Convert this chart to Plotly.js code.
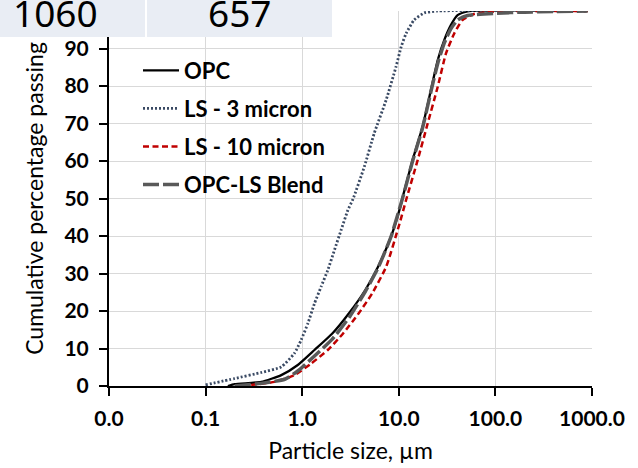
<!DOCTYPE html>
<html>
<head>
<meta charset="utf-8">
<script src="https://cdn.plot.ly/plotly-3.0.1.min.js"></script>
<style>html,body{margin:0;padding:0;background:#fff;}#chart{width:638px;height:468px;}</style>
</head>
<body>
<div id="chart"></div>
<script>
// Series names
var seriesNames = ['OPC', 'LS - 3 micron', 'LS - 10 micron', 'OPC-LS Blend'];

// Particle size (µm) and cumulative percentage passing (%) for each series
var opcSize = [0.17, 0.2, 0.377, 0.607, 0.9, 1.34, 2.05, 3.05, 4.5, 6.1, 8.3, 10.3, 11.0, 13.9, 17.6, 21.5, 25.3, 29.6, 34.7, 40.6, 51.5, 900];
var opcPass = [0, 0.5, 1.1, 2.9, 5.6, 9.6, 14, 19.4, 25.6, 31.8, 39.8, 47.5, 50.5, 60.3, 69.1, 78.9, 86.9, 92.3, 96.3, 98.9, 99.9, 100];

var ls3Size = [0.1, 0.2, 0.377, 0.607, 0.83, 0.976, 1.145, 1.34, 1.57, 1.84, 2.16, 2.53, 2.97, 3.35, 4.4, 5.57, 7.4, 9.35, 10.6, 11.9, 14.4, 18.4, 25, 900];
var ls3Pass = [0.3, 2.0, 3.6, 5.1, 8.7, 12.3, 16.7, 22, 26.5, 30.9, 36.3, 41.6, 46.9, 49.8, 58.5, 67.4, 76.3, 85.1, 90.5, 94, 97.6, 99.5, 100, 100];

var ls10Size = [0.235, 0.3, 0.517, 0.83, 1.24, 1.84, 2.65, 3.85, 5.3, 7.4, 10.1, 11.9, 15.7, 19.9, 25.3, 30.8, 37.5, 45.6, 60, 82, 150, 900];
var ls10Pass = [0, 0.3, 1.1, 2.9, 6.0, 9.6, 14, 19.4, 24.7, 31.8, 43, 49.6, 60.3, 70, 79.8, 88.7, 94, 97.6, 99.2, 99.7, 100, 100];

var blendSize = [0.2, 0.377, 0.66, 0.9, 1.34, 2.05, 3.1, 4.5, 6.1, 8.3, 11.0, 13.9, 17.6, 21.5, 25.3, 29.6, 34.7, 40.6, 51.5, 100, 200, 900];
var blendPass = [0, 0.7, 1.8, 4.0, 8.0, 12.5, 18.5, 25.2, 31.5, 39.8, 50.3, 60, 68.8, 78.5, 86, 91.5, 95.3, 97.6, 98.8, 99.4, 99.7, 100];

// Axis ticks
var xTickVals = [0.01, 0.1, 1, 10, 100, 1000];
var xTickText = ['0.0', '0.1', '1.0', '10.0', '100.0', '1000.0'];
var yTickVals = [0, 10, 20, 30, 40, 50, 60, 70, 80, 90, 100];
var yTickText = ['0', '10', '20', '30', '40', '50', '60', '70', '80', '90', ''];

// Header table cells (cropped table above the chart)
var headerCells = ['1060', '657'];

var W = 638, H = 468;
var L = 109, R = 46, T = 11, B = 82;
var pw = W - L - R, ph = H - T - B;
function px2x(p) { return (p - L) / pw; }
function px2y(p) { return (H - B - p) / ph; }

var sm = 0.5;
var traces = [
  {x: opcSize, y: opcPass, name: seriesNames[0], mode: 'lines', legendgroup: 'a',
   line: {color: '#000000', width: 2.3, shape: 'spline', smoothing: sm}},
  {x: ls3Size, y: ls3Pass, name: seriesNames[1], mode: 'lines', legendgroup: 'b',
   line: {color: '#3a4a64', width: 2.8, dash: '2px,2px', shape: 'spline', smoothing: sm}},
  {x: ls10Size, y: ls10Pass, name: seriesNames[2], mode: 'lines', legendgroup: 'c',
   line: {color: '#c00000', width: 2.5, dash: '6px,3.5px', shape: 'spline', smoothing: sm}},
  {x: blendSize, y: blendPass, name: seriesNames[3], mode: 'lines', legendgroup: 'd',
   line: {color: '#595959', width: 3.5, dash: '16px,4px', shape: 'spline', smoothing: sm}}
];

var tickFont = {family: 'Lato, sans-serif', size: 21, color: '#000', weight: 'bold'};
var titleFont = {family: 'Lato, sans-serif', size: 23, color: '#000'};

var layout = {
  width: W, height: H,
  margin: {l: L, r: R, t: T, b: B, pad: 0},
  paper_bgcolor: '#ffffff', plot_bgcolor: '#ffffff',
  showlegend: true,
  legend: {
    x: px2x(138), y: px2y(49.5), xanchor: 'left', yanchor: 'top',
    font: {family: 'Lato, sans-serif', size: 22, color: '#000', weight: 'bold'},
    traceorder: 'grouped', tracegroupgap: 6.5, itemwidth: 36,
    bgcolor: 'rgba(0,0,0,0)', borderwidth: 0
  },
  xaxis: {
    type: 'log', range: [-2, 3], tickvals: xTickVals, ticktext: xTickText,
    showline: true, linecolor: '#000', linewidth: 2, mirror: false,
    ticks: 'outside', ticklen: 8, tickwidth: 2, tickcolor: '#000',
    showgrid: true, gridcolor: '#d9d9d9', gridwidth: 1, zeroline: false,
    tickfont: tickFont, ticklabelstandoff: 5,
    title: {text: 'Particle size, µm', font: titleFont, standoff: 14},
    automargin: false
  },
  yaxis: {
    range: [0, 100], tickvals: yTickVals, ticktext: yTickText,
    showline: true, linecolor: '#000', linewidth: 2, mirror: false,
    ticks: 'outside', ticklen: 8, tickwidth: 2, tickcolor: '#000',
    showgrid: true, gridcolor: '#d9d9d9', gridwidth: 1, zeroline: false,
    tickfont: tickFont, ticklabelstandoff: 6,
    title: {text: 'Cumulative percentage passing', font: titleFont, standoff: 14},
    automargin: false
  },
  annotations: [
    {xref: 'paper', yref: 'paper', x: px2x(0), y: px2y(0), xanchor: 'left', yanchor: 'top',
     text: ' ', width: 145, height: 37, bgcolor: '#e9edf4', borderpad: 0, borderwidth: 0, showarrow: false},
    {xref: 'paper', yref: 'paper', x: px2x(147), y: px2y(0), xanchor: 'left', yanchor: 'top',
     text: ' ', width: 185, height: 37, bgcolor: '#e9edf4', borderpad: 0, borderwidth: 0, showarrow: false},
    {xref: 'paper', yref: 'paper', x: px2x(11), y: px2y(13), xanchor: 'left', yanchor: 'middle',
     text: headerCells[0], showarrow: false,
     font: {family: 'Noto Sans, sans-serif', size: 37, color: '#000'}},
    {xref: 'paper', yref: 'paper', x: px2x(239.5), y: px2y(13), xanchor: 'center', yanchor: 'middle',
     text: headerCells[1], showarrow: false,
     font: {family: 'Noto Sans, sans-serif', size: 37, color: '#000'}}
  ]
};

Plotly.newPlot('chart', traces, layout, {staticPlot: true, displayModeBar: false});
</script>
</body>
</html>
